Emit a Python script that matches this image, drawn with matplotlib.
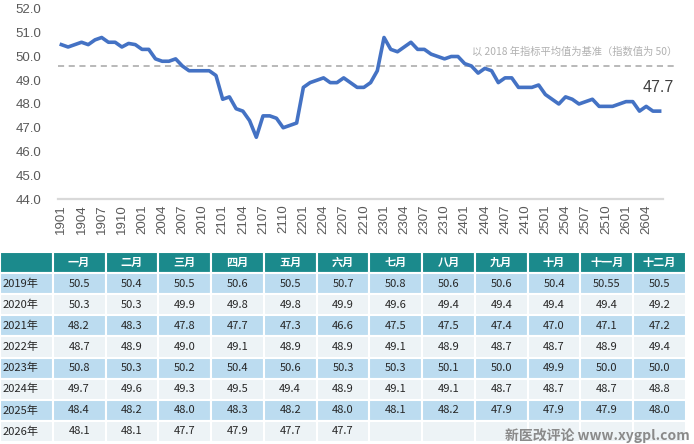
import matplotlib.pyplot as plt
from matplotlib.patches import Rectangle

# 月份与年份
months = ["一月", "二月", "三月", "四月", "五月", "六月",
          "七月", "八月", "九月", "十月", "十一月", "十二月"]
years = ["2019年", "2020年", "2021年", "2022年", "2023年", "2024年", "2025年", "2026年"]

# 各年月度指数
v2019 = [50.5, 50.4, 50.5, 50.6, 50.5, 50.7, 50.8, 50.6, 50.6, 50.4, 50.55, 50.5]
v2020 = [50.3, 50.3, 49.9, 49.8, 49.8, 49.9, 49.6, 49.4, 49.4, 49.4, 49.4, 49.2]
v2021 = [48.2, 48.3, 47.8, 47.7, 47.3, 46.6, 47.5, 47.5, 47.4, 47.0, 47.1, 47.2]
v2022 = [48.7, 48.9, 49.0, 49.1, 48.9, 48.9, 49.1, 48.9, 48.7, 48.7, 48.9, 49.4]
v2023 = [50.8, 50.3, 50.2, 50.4, 50.6, 50.3, 50.3, 50.1, 50.0, 49.9, 50.0, 50.0]
v2024 = [49.7, 49.6, 49.3, 49.5, 49.4, 48.9, 49.1, 49.1, 48.7, 48.7, 48.7, 48.8]
v2025 = [48.4, 48.2, 48.0, 48.3, 48.2, 48.0, 48.1, 48.2, 47.9, 47.9, 47.9, 48.0]
v2026 = [48.1, 48.1, 47.7, 47.9, 47.7, 47.7]
rows = [v2019, v2020, v2021, v2022, v2023, v2024, v2025, v2026]

baseline = 49.6
baseline_note = "以 2018 年指标平均值为基准（指数值为 50）"

BLUE = "#4472c4"
TEAL = "#1b8a8c"
ROW_A = "#bcdcf0"
ROW_B = "#edf3f6"


def main():
    plt.rcParams['font.family'] = ['Liberation Sans', 'Noto Sans CJK SC', 'DejaVu Sans']

    values = [v for r in rows for v in r]
    labels = []
    for yi, r in enumerate(rows):
        for mi in range(len(r)):
            labels.append("%02d%02d" % (19 + yi, mi + 1))
    x = list(range(len(values)))

    fig = plt.figure(figsize=(6.94, 4.44), dpi=100)

    # 折线图
    ax = fig.add_axes([58 / 694, (444 - 199) / 444, 605 / 694, 190 / 444])
    ax.plot(x, values, color=BLUE, lw=2.6, solid_joinstyle='round', zorder=3)
    ax.axhline(baseline, xmin=0, xmax=1.025, color="#a6a6a6", lw=1.1,
               ls=(0, (4, 3)), clip_on=False, zorder=2)
    ax.text(1.023, 50.2, baseline_note, transform=ax.get_yaxis_transform(),
            ha='right', va='center', fontsize=7.4, color="#b0b0b0",
            family=['Noto Sans CJK SC', 'DejaVu Sans'])
    ax.annotate(str(values[-1]), (x[-1], values[-1]), xytext=(-1, 17),
                textcoords='offset points', ha='center', va='center',
                fontsize=11.5, color="#404040")

    ax.set_xlim(-0.5, len(values) - 0.5)
    ax.set_ylim(44, 52)
    ax.set_yticks(range(44, 53))
    ax.set_yticklabels(["%.1f" % t for t in range(44, 53)])
    ax.set_xticks(x[::3])
    ax.set_xticklabels(labels[::3], rotation=90)
    ax.tick_params(axis='y', length=0, pad=12, labelsize=9.5, labelcolor="#595959")
    ax.tick_params(axis='x', length=0, pad=4, labelsize=9.5, labelcolor="#595959")
    for s in ['top', 'right', 'left']:
        ax.spines[s].set_visible(False)
    ax.spines['bottom'].set_color("#d9d9d9")
    ax.spines['bottom'].set_linewidth(1.6)

    # 表格
    tab = fig.add_axes([0, 2 / 444, 686 / 694, 190 / 444])
    tab.set_xlim(0, 13)
    tab.set_ylim(9, 0)
    tab.axis('off')
    cjk = ['Noto Sans CJK SC', 'DejaVu Sans']
    for c in range(13):
        tab.add_patch(Rectangle((c, 0), 1, 1, fc=TEAL, ec='white', lw=1.5))
        if c > 0:
            tab.text(c + 0.5, 0.5, months[c - 1], ha='center', va='center',
                     fontsize=8, color='white', fontweight='bold', family=cjk)
    for r, vals in enumerate(rows):
        fc = ROW_A if r % 2 == 0 else ROW_B
        for c in range(13):
            tab.add_patch(Rectangle((c, r + 1), 1, 1, fc=fc, ec='white', lw=1.5))
        tab.text(0.04, r + 1.5, years[r], ha='left', va='center',
                 fontsize=8, color="#262626", family=cjk)
        for c, v in enumerate(vals):
            tab.text(c + 1.5, r + 1.5, str(v), ha='center', va='center',
                     fontsize=8, color="#262626", family=cjk)

    # 水印
    fig.text(690 / 694, 8 / 444, "新医改评论 www.xygpl.com", ha='right', va='center',
             fontsize=10, color="#8a8a8a", fontweight='bold', family=cjk, zorder=10)

    fig.savefig("out.png", dpi=100)


if __name__ == "__main__":
    main()
